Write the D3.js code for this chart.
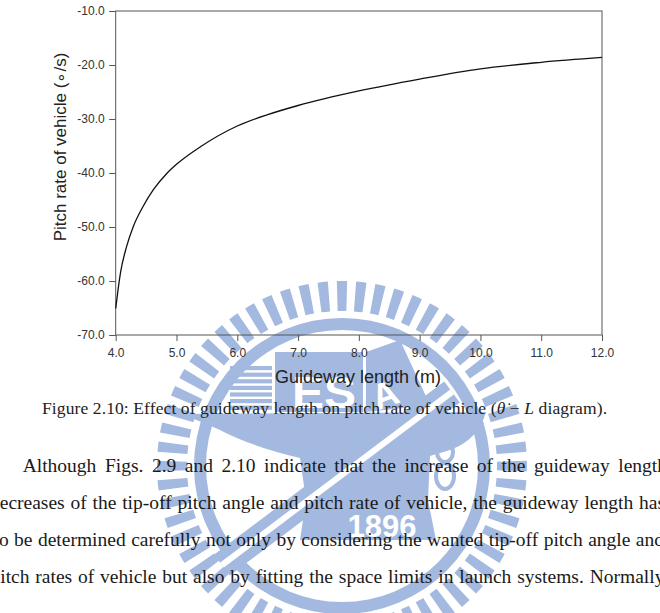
<!DOCTYPE html>
<html>
<head>
<meta charset="utf-8">
<script src="https://cdn.jsdelivr.net/npm/d3@7"></script>
<style>
  body { margin: 0; background: #fff; }
  svg { display: block; }
</style>
</head>
<body>
<svg id="page"></svg>
<script>
// guideway length (m) and pitch rate of vehicle (deg/s)
const guidewayLength = [4.0, 4.04, 4.08, 4.18, 4.29, 4.45, 4.62, 4.84, 5.0, 5.4, 6.0, 6.5, 7.0, 8.0, 9.0, 10.0, 11.0, 12.0];
const pitchRate = [-65.1, -61.5, -58.4, -53.6, -49.9, -46.2, -43.1, -40.1, -38.4, -35.1, -31.3, -29.2, -27.5, -24.8, -22.6, -20.7, -19.5, -18.6];
const xTicks = [4, 5, 6, 7, 8, 9, 10, 11, 12];
const yTicks = [-10, -20, -30, -40, -50, -60, -70];

const caption = "Figure 2.10: Effect of guideway length on pitch rate of vehicle (";
const bodyLines = [
  "Although Figs.  2.9 and 2.10 indicate that the increase of the guideway length",
  "decreases of the tip-off pitch angle and pitch rate of vehicle, the guideway length has",
  "to be determined carefully not only by considering the wanted tip-off pitch angle and",
  "pitch rates of vehicle but also by fitting the space limits in launch systems. Normally,"
];

const W = 660, H = 613;
const svg = d3.select("#page").attr("width", W).attr("height", H);

// ---- watermark (university seal), drawn first so everything sits on top
const wm = "#a3b9df";
const logo = svg.append("g").attr("transform", "translate(342,466)");
const nBars = 60;
const bar = d3.arc().innerRadius(155).outerRadius(185);
for (let i = 0; i < nBars; i++) {
  const a = i * 2 * Math.PI / nBars;
  logo.append("path")
    .attr("d", bar({ startAngle: a - 0.028, endAngle: a + 0.028 }))
    .attr("fill", wm);
}
logo.append("path")
  .attr("d", d3.arc().innerRadius(136).outerRadius(148)({ startAngle: 0, endAngle: 2 * Math.PI }))
  .attr("fill", wm);

const inner = svg.append("g");
// striped block
for (let i = 0; i < 7; i++) {
  inner.append("rect").attr("x", 230).attr("y", 366 + i * 6.6).attr("width", 42).attr("height", 4.2).attr("fill", wm);
}
// E S block
inner.append("rect").attr("x", 275).attr("y", 352).attr("width", 88).attr("height", 60).attr("fill", wm);
inner.append("text").attr("x", 292).attr("y", 408).attr("font-family", "Liberation Sans").attr("font-weight", "bold")
  .attr("font-size", 44).attr("fill", "#fff").attr("textLength", 64).attr("lengthAdjust", "spacingAndGlyphs").text("ES");
// A parallelogram
inner.append("path").attr("d", "M366,352 L400,340 L430,405 L366,412 Z").attr("fill", wm);
inner.append("text").attr("x", 372).attr("y", 407).attr("font-family", "Liberation Sans").attr("font-weight", "bold")
  .attr("font-size", 36).attr("fill", "#fff").attr("transform", "rotate(-20,385,395)").text("A");
// anvil: top face, waist and base
inner.append("path")
  .attr("d", "M180,414 L486,412 Q478,440 450,450 L430,456 L428,500 L436,540 L300,540 L306,500 L300,458 Q250,446 220,430 Q198,420 180,414 Z")
  .attr("fill", wm);
// 1896 on the base
inner.append("text").attr("x", 382).attr("y", 537).attr("text-anchor", "middle").attr("font-family", "Liberation Sans")
  .attr("font-weight", "bold").attr("font-size", 31).attr("fill", "#fff").text("1896");
// pen across the seal
inner.append("line").attr("x1", 222).attr("y1", 565).attr("x2", 452).attr("y2", 392).attr("stroke", wm).attr("stroke-width", 26);
inner.append("line").attr("x1", 222).attr("y1", 565).attr("x2", 452).attr("y2", 392).attr("stroke", "#fff").attr("stroke-width", 6);
// ribbon 8
inner.append("ellipse").attr("cx", 445).attr("cy", 452).attr("rx", 8).attr("ry", 10).attr("fill", "none").attr("stroke", wm).attr("stroke-width", 4);
inner.append("ellipse").attr("cx", 445).attr("cy", 476).attr("rx", 9).attr("ry", 13).attr("fill", "none").attr("stroke", wm).attr("stroke-width", 4);

// ---- chart
const plotLeft = 115.7, plotRight = 602, plotTop = 11, plotBottom = 335;
const x = d3.scaleLinear().domain([4, 12]).range([plotLeft, plotRight]);
const y = d3.scaleLinear().domain([-70, -10]).range([plotBottom, plotTop]);
const fmt = d => d.toFixed(1);

const chart = svg.append("g");

chart.append("g")
  .attr("transform", "translate(0," + plotBottom + ")")
  .call(d3.axisBottom(x).tickValues(xTicks).tickFormat(fmt).tickSize(6).tickPadding(7))
  .call(g => g.select(".domain").remove())
  .call(g => g.selectAll("line").attr("stroke", "#555"))
  .call(g => g.selectAll("text").attr("fill", "#333").attr("font-size", 12).attr("font-family", "Liberation Sans"));

chart.append("g")
  .attr("transform", "translate(" + plotLeft + ",0)")
  .call(d3.axisLeft(y).tickValues(yTicks).tickFormat(fmt).tickSize(6.5).tickPadding(4.5))
  .call(g => g.select(".domain").remove())
  .call(g => g.selectAll("line").attr("stroke", "#555"))
  .call(g => g.selectAll("text").attr("fill", "#333").attr("font-size", 12).attr("font-family", "Liberation Sans"));

chart.append("rect")
  .attr("x", plotLeft).attr("y", plotTop)
  .attr("width", plotRight - plotLeft).attr("height", plotBottom - plotTop)
  .attr("fill", "none").attr("stroke", "#555").attr("stroke-width", 1);

const line = d3.line()
  .x((d, i) => x(guidewayLength[i]))
  .y(d => y(d))
  .curve(d3.curveMonotoneX);

chart.append("path")
  .datum(pitchRate)
  .attr("fill", "none")
  .attr("stroke", "#111")
  .attr("stroke-width", 1.3)
  .attr("d", line);

chart.append("text")
  .attr("x", 358).attr("y", 382.5)
  .attr("text-anchor", "middle")
  .attr("font-family", "Liberation Sans").attr("font-size", 18).attr("fill", "#222")
  .text("Guideway length (m)");

chart.append("text")
  .attr("transform", "translate(66,147) rotate(-90)")
  .attr("text-anchor", "middle")
  .attr("font-family", "Liberation Sans").attr("font-size", 17).attr("fill", "#222")
  .text("Pitch rate of vehicle (\u2218/s)");

// ---- caption
const cap = svg.append("text")
  .attr("x", 42).attr("y", 414)
  .attr("font-family", "Liberation Serif").attr("font-size", 17.5).attr("fill", "#222")
  .attr("textLength", 565).attr("lengthAdjust", "spacing");
cap.append("tspan").text(caption);
cap.append("tspan").attr("font-style", "italic").text("\u03B8\u0307");
cap.append("tspan").text(" \u2212 ");
cap.append("tspan").attr("font-style", "italic").text("L");
cap.append("tspan").text(" diagram).");

// ---- justified body text
const lineBase = [472, 509, 546, 583];
const lineStart = [22.7, -10, -6.5, -9.5];
const lineEnd = [667, 665, 664, 668];
const bodyFont = 19.5;

bodyLines.forEach((str, li) => {
  const words = str.split(/\s+/);
  const g = svg.append("g");
  const nodes = words.map(w => g.append("text")
    .attr("y", lineBase[li])
    .attr("font-family", "Liberation Serif").attr("font-size", bodyFont).attr("fill", "#1a1a1a")
    .text(w));
  const widths = nodes.map(n => n.node().getComputedTextLength());
  const total = d3.sum(widths);
  const gap = (lineEnd[li] - lineStart[li] - total) / (words.length - 1);
  let cx = lineStart[li];
  nodes.forEach((n, i) => {
    n.attr("x", cx);
    cx += widths[i] + gap;
  });
});
</script>
</body>
</html>
